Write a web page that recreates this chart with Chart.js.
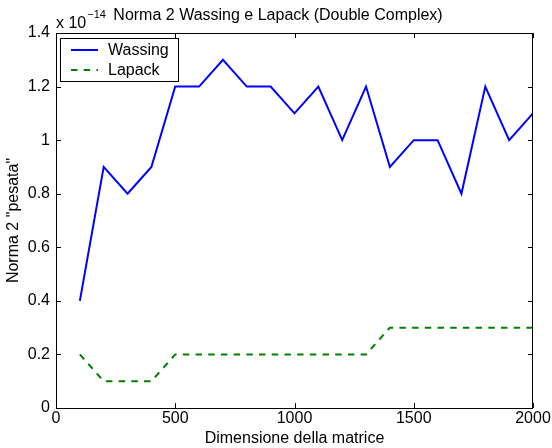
<!DOCTYPE html>
<html lang="it">
<head>
  <meta charset="UTF-8" />
  <title>Norma 2 Wassing e Lapack</title>
  <script src="https://cdn.jsdelivr.net/npm/chart.js"></script>
  <style>
    body { margin: 0; background: white; }
    #wrap { width: 552px; height: 448px; }
  </style>
</head>
<body>
  <div id="wrap"><canvas id="normChart" width="552" height="448"></canvas></div>
  <script>
    const dims = [100, 200, 300, 400, 500, 600, 700, 800, 900, 1000,
                  1100, 1200, 1300, 1400, 1500, 1600, 1700, 1800, 1900, 2000];
    const wassing = [0.4, 0.9, 0.8, 0.9, 1.2, 1.2, 1.3, 1.2, 1.2, 1.1,
                     1.2, 1.0, 1.2, 0.9, 1.0, 1.0, 0.8, 1.2, 1.0, 1.1];
    const lapack = [0.2, 0.1, 0.1, 0.1, 0.2, 0.2, 0.2, 0.2, 0.2, 0.2,
                    0.2, 0.2, 0.2, 0.3, 0.3, 0.3, 0.3, 0.3, 0.3, 0.3];
    const xTicks = [0, 500, 1000, 1500, 2000];
    const yTicks = [0, 0.2, 0.4, 0.6, 0.8, 1, 1.2, 1.4];

    const FONT = "'Liberation Sans', Arial, sans-serif";

    // box, inward ticks, exponent, title and legend drawn in matlab style
    const matlabStyle = {
      id: "matlabStyle",
      afterDraw(chart) {
        const c = chart.ctx;
        const a = chart.chartArea;
        const xs = chart.scales.x, ys = chart.scales.y;
        c.save();
        c.strokeStyle = "#000";
        c.lineWidth = 1;
        c.strokeRect(a.left + 0.5, a.top + 0.5, a.right - a.left - 1, a.bottom - a.top);
        c.beginPath();
        xTicks.forEach(v => {
          const px = Math.round(xs.getPixelForValue(v)) + 0.5;
          c.moveTo(px, a.bottom); c.lineTo(px, a.bottom - 5);
          c.moveTo(px, a.top); c.lineTo(px, a.top + 5);
        });
        yTicks.forEach(v => {
          const py = Math.round(ys.getPixelForValue(v)) + 0.5;
          c.moveTo(a.left, py); c.lineTo(a.left + 5, py);
          c.moveTo(a.right, py); c.lineTo(a.right - 5, py);
        });
        c.stroke();

        // exponent
        c.fillStyle = "#000";
        c.textBaseline = "alphabetic";
        c.textAlign = "left";
        c.font = "16px " + FONT;
        c.fillText("x 10", a.left, 28);
        const w = c.measureText("x 10").width;
        c.font = "11px " + FONT;
        c.fillText("\u221214", a.left + w + 1, 18);

        // title
        c.font = "16px " + FONT;
        c.textAlign = "center";
        c.fillText("Norma 2 Wassing e Lapack (Double Complex)", 278, 20);

        // legend
        const lx = 60, ly = 38, lw = 118, lh = 43;
        c.fillStyle = "#fff";
        c.fillRect(lx, ly, lw, lh);
        c.strokeStyle = "#000";
        c.lineWidth = 1;
        c.strokeRect(lx + 0.5, ly + 0.5, lw, lh);
        chart.data.datasets.forEach((ds, i) => {
          const yy = ly + 12 + i * 20;
          c.beginPath();
          c.strokeStyle = ds.borderColor;
          c.lineWidth = 2;
          c.setLineDash(ds.borderDash || []);
          c.moveTo(lx + 11, yy); c.lineTo(lx + 38, yy);
          c.stroke();
          c.setLineDash([]);
          c.fillStyle = "#000";
          c.textAlign = "left";
          c.textBaseline = "middle";
          c.font = "16px " + FONT;
          c.fillText(ds.label, lx + 48, yy + 1);
        });
        c.restore();
      }
    };

    const ctx = document.getElementById("normChart").getContext("2d");
    new Chart(ctx, {
      type: "line",
      data: {
        datasets: [
          {
            label: "Wassing",
            data: dims.map((d, i) => ({ x: d, y: wassing[i] })),
            borderColor: "#0000ff",
            borderWidth: 2,
            pointRadius: 0,
            tension: 0
          },
          {
            label: "Lapack",
            data: dims.map((d, i) => ({ x: d, y: lapack[i] })),
            borderColor: "#008000",
            borderWidth: 2,
            borderDash: [6.5, 6.2],
            pointRadius: 0,
            tension: 0
          }
        ]
      },
      options: {
        responsive: false,
        animation: false,
        layout: { padding: { top: 33, right: 19, left: 0, bottom: 0 } },
        plugins: {
          legend: { display: false },
          tooltip: { enabled: false }
        },
        scales: {
          x: {
            type: "linear",
            min: 0,
            max: 2000,
            afterFit: s => { s.height = 40; },
            afterBuildTicks: s => { s.ticks = xTicks.map(v => ({ value: v })); },
            grid: { display: false, drawTicks: false },
            border: { display: false },
            ticks: {
              color: "#000",
              font: { size: 16, family: FONT },
              padding: 1,
              maxRotation: 0,
              callback: v => String(v)
            },
            title: {
              display: true,
              text: "Dimensione della matrice",
              color: "#000",
              font: { size: 16, family: FONT },
              padding: { top: 0, bottom: 0 }
            }
          },
          y: {
            min: 0,
            max: 1.4,
            afterFit: s => { s.width = 56; },
            afterBuildTicks: s => { s.ticks = yTicks.map(v => ({ value: v })); },
            grid: { display: false, drawTicks: false },
            border: { display: false },
            ticks: {
              color: "#000",
              font: { size: 16, family: FONT },
              padding: 6,
              callback: v => String(v)
            },
            title: {
              display: true,
              text: "Norma 2 \"pesata\"",
              color: "#000",
              font: { size: 16, family: FONT },
              padding: { top: 4, bottom: 0 }
            }
          }
        }
      },
      plugins: [matlabStyle]
    });
  </script>
</body>
</html>
